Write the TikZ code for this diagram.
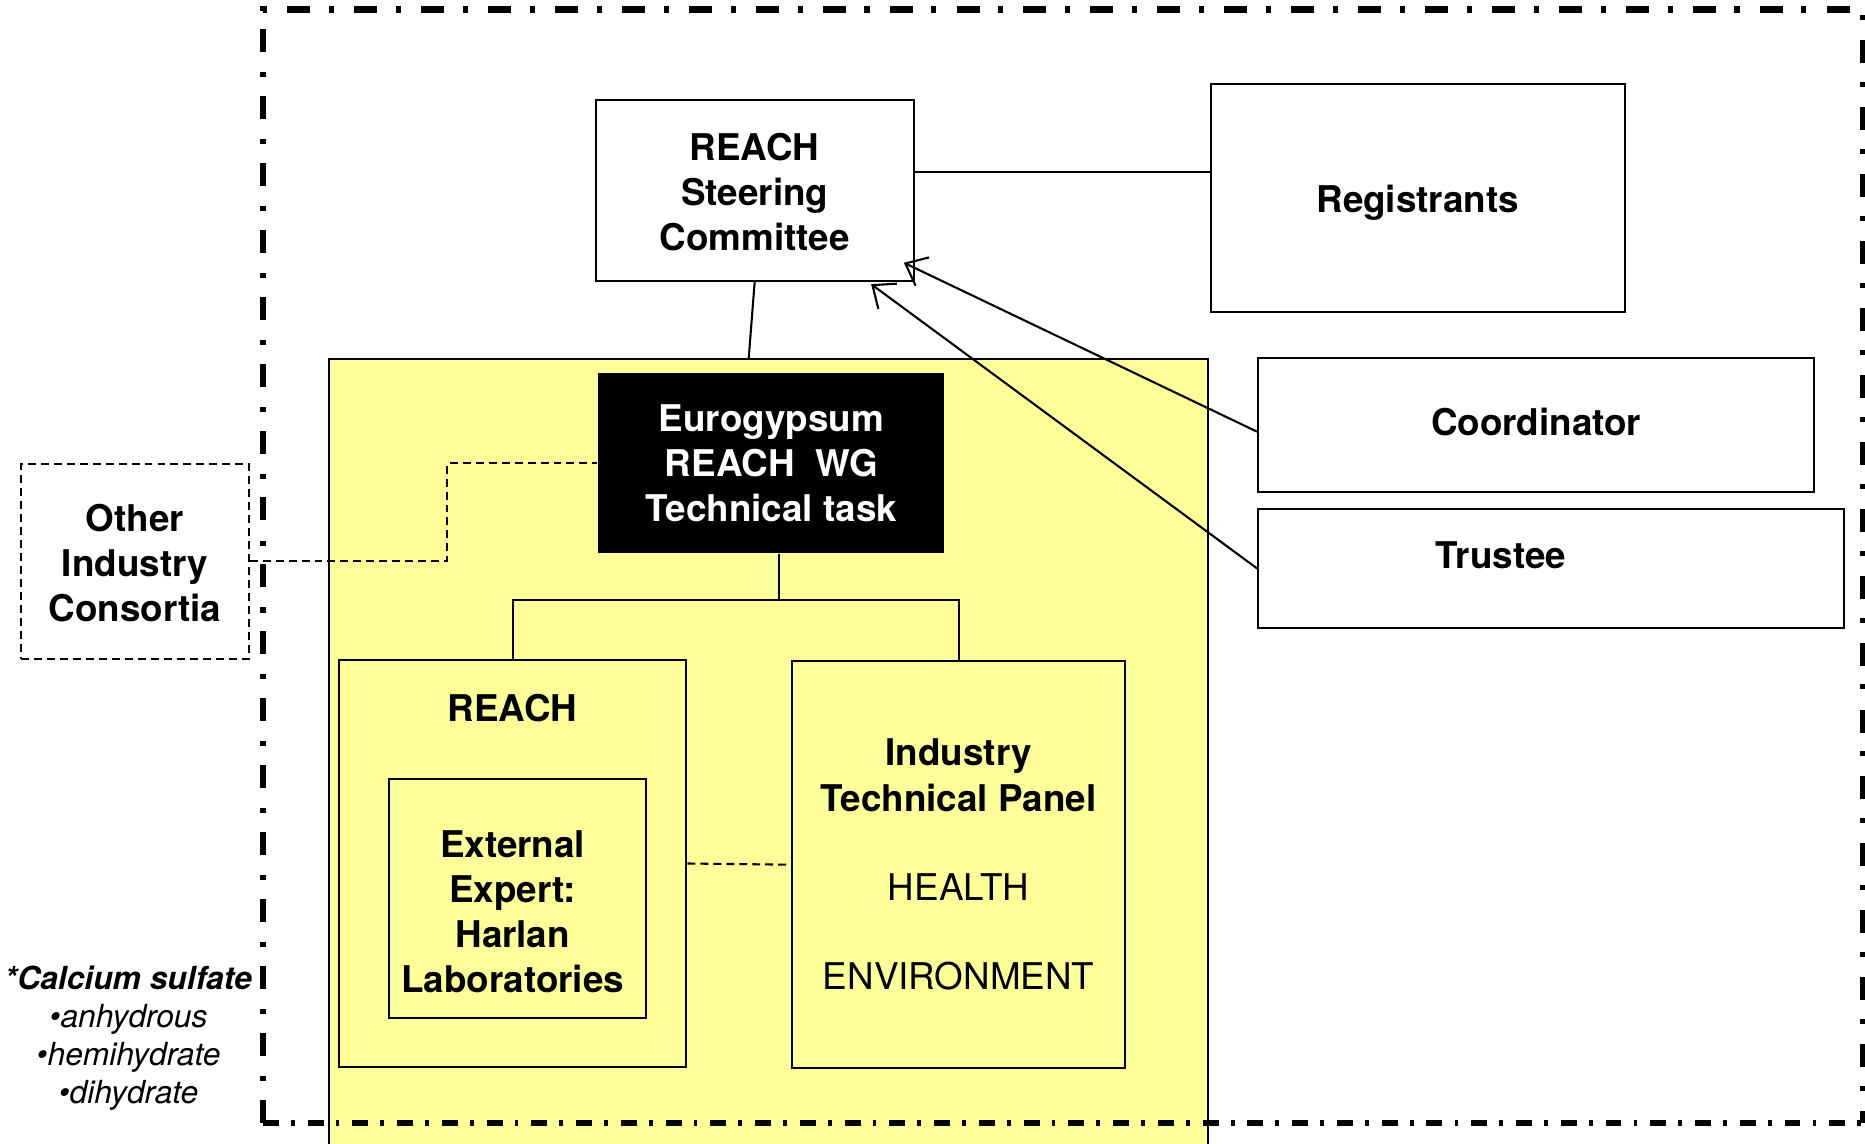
\documentclass[tikz,border=0pt]{standalone}
\usepackage{fontspec}
\setmainfont{TeX Gyre Heros}
\usetikzlibrary{arrows.meta}
\definecolor{paleyellow}{RGB}{255,255,153}
\begin{document}
\begin{tikzpicture}[x=0.01cm, y=-0.01cm,
  txt/.style={font=\fontsize{8.8pt}{10.8pt}\selectfont\bfseries, align=center, inner sep=0pt},
  box/.style={draw, line width=0.5pt, txt},
  dsh/.style={dash pattern=on 1.9pt off 1.2pt, line width=0.5pt},
  conn/.style={line width=0.5pt},
  arr/.style={line width=0.5pt, -{Straight Barb[length=4.5pt,width=7.5pt]}},
  border/.style={line width=1.45pt}
]
\useasboundingbox (0,0) rectangle (1568,961);
\clip (0,0) rectangle (1568,961);

% yellow panel
\node[draw, line width=0.5pt, fill=paleyellow, minimum width=7.38cm, minimum height=7cm, anchor=north west, inner sep=0pt] (panel) at (276,301) {};

% dash-dot frame
\draw[border, dash pattern=on 5.5pt off 4.5pt on 1.2pt off 4.8pt] (221,944) -- (221,8) -- (1566,8) -- (1566,944);
\draw[border, dash pattern=on 3.8pt off 2.9pt on 0.9pt off 3.1pt] (221,944) -- (1566,944);

% nodes
\node[box, minimum width=2.67cm, minimum height=1.52cm,
  label={[txt, yshift=-0.015cm]center:REACH\\Steering\\Committee}] (steer) at (634.5,160) {};
\node[box, minimum width=3.48cm, minimum height=1.91cm,
  label={[txt, yshift=-0.04cm]center:Registrants}] (reg) at (1192,166.5) {};
\node[box, minimum width=4.67cm, minimum height=1.13cm,
  label={[txt, yshift=0.03cm]center:Coordinator}] (coord) at (1291.5,357.5) {};
\node[box, minimum width=4.92cm, minimum height=1.0cm,
  label={[txt, xshift=-0.42cm, yshift=0.11cm]center:Trustee}] (trustee) at (1304,478) {};

\node[fill=black, text=white, txt, minimum width=2.91cm, minimum height=1.51cm] (wg) at (648.5,389.5) {Eurogypsum\\REACH\ \ WG\\Technical task};

\node[box, minimum width=2.92cm, minimum height=3.42cm] (reach) at (431,726) {};
\node[txt] (reachlbl) at (431,595) {REACH};
\node[box, minimum width=2.16cm, minimum height=2.01cm,
  label={[txt, xshift=-0.04cm, yshift=-0.11cm]center:External\\Expert:\\Harlan\\Laboratories}] (ext) at (435,755.5) {};

\node[box, minimum width=2.80cm, minimum height=3.42cm] (itp) at (806,727)
  {Industry\\Technical Panel\\[0.37cm]{\mdseries HEALTH}\\[0.37cm]{\mdseries ENVIRONMENT}};

\node[box, dsh, minimum width=1.91cm, minimum height=1.64cm,
  label={[txt, yshift=-0.015cm]center:Other\\Industry\\Consortia}] (other) at (113.5,472) {};

\node[font=\fontsize{7.6pt}{9.1pt}\selectfont\itshape, align=center, inner sep=0pt] (calc) at (108,873)
  {{\bfseries *Calcium sulfate}\\\textbullet anhydrous\\\textbullet hemihydrate\\\textbullet dihydrate};

% connectors
\draw[conn] ([yshift=0.15cm]steer.east) -- ([yshift=0.15cm]steer.east -| reg.west);
\draw[conn] (steer.south) -- ([xshift=-0.05cm]steer.south |- panel.north);
\draw[arr] ([yshift=-0.055cm]coord.west) -- ([shift={(-0.09cm,0.16cm)}]steer.south east);
\draw[arr] (trustee.west) -- ([shift={(-0.365cm,-0.02cm)}]steer.south east);

\draw[conn] ([xshift=0.065cm]wg.south) -- ++(0,39) -| (reach.north);
\draw[conn] ([xshift=0.065cm]wg.south) -- ++(0,39) -| (itp.north);

\draw[dsh] (other.east) -- ++(166,0) |- (wg.west);
\draw[dsh] (reach.east) -- (itp.west);
\end{tikzpicture}
\end{document}
